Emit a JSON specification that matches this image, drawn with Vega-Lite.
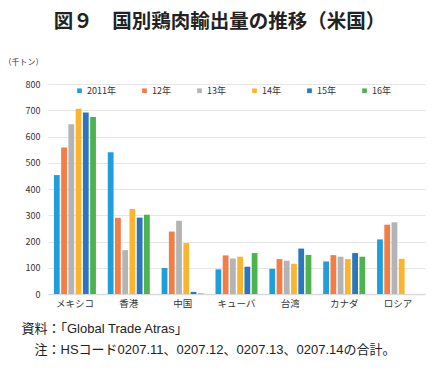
{
  "$schema": "https://vega.github.io/schema/vega-lite/v6.json",
  "autosize": "none",
  "width": 377,
  "height": 210,
  "padding": {"left": 48, "top": 84, "right": 14, "bottom": 87},
  "background": "#ffffff",
  "config": {
    "font": "Noto Sans CJK JP",
    "view": {"stroke": null}
  },
  "title": {
    "text": "図９　国別鶏肉輸出量の推移（米国）",
    "font": "Noto Sans CJK JP",
    "fontSize": 19.5,
    "fontWeight": "bold",
    "color": "#222222",
    "anchor": "middle",
    "dx": -17,
    "offset": 26
  },
  "data": {
    "values": [
      {"country": "メキシコ", "year": "2011年", "value": 453},
      {"country": "メキシコ", "year": "12年", "value": 558},
      {"country": "メキシコ", "year": "13年", "value": 647},
      {"country": "メキシコ", "year": "14年", "value": 706},
      {"country": "メキシコ", "year": "15年", "value": 691},
      {"country": "メキシコ", "year": "16年", "value": 674},
      {"country": "香港", "year": "2011年", "value": 540},
      {"country": "香港", "year": "12年", "value": 290},
      {"country": "香港", "year": "13年", "value": 167},
      {"country": "香港", "year": "14年", "value": 324},
      {"country": "香港", "year": "15年", "value": 291},
      {"country": "香港", "year": "16年", "value": 302},
      {"country": "中国", "year": "2011年", "value": 99},
      {"country": "中国", "year": "12年", "value": 238},
      {"country": "中国", "year": "13年", "value": 279},
      {"country": "中国", "year": "14年", "value": 194},
      {"country": "中国", "year": "15年", "value": 8},
      {"country": "中国", "year": "16年", "value": 2},
      {"country": "キューバ", "year": "2011年", "value": 94},
      {"country": "キューバ", "year": "12年", "value": 147},
      {"country": "キューバ", "year": "13年", "value": 135},
      {"country": "キューバ", "year": "14年", "value": 142},
      {"country": "キューバ", "year": "15年", "value": 104},
      {"country": "キューバ", "year": "16年", "value": 156},
      {"country": "台湾", "year": "2011年", "value": 96},
      {"country": "台湾", "year": "12年", "value": 133},
      {"country": "台湾", "year": "13年", "value": 127},
      {"country": "台湾", "year": "14年", "value": 115},
      {"country": "台湾", "year": "15年", "value": 173},
      {"country": "台湾", "year": "16年", "value": 149},
      {"country": "カナダ", "year": "2011年", "value": 124},
      {"country": "カナダ", "year": "12年", "value": 148},
      {"country": "カナダ", "year": "13年", "value": 142},
      {"country": "カナダ", "year": "14年", "value": 133},
      {"country": "カナダ", "year": "15年", "value": 156},
      {"country": "カナダ", "year": "16年", "value": 142},
      {"country": "ロシア", "year": "2011年", "value": 208},
      {"country": "ロシア", "year": "12年", "value": 264},
      {"country": "ロシア", "year": "13年", "value": 273},
      {"country": "ロシア", "year": "14年", "value": 134}
    ]
  },
  "mark": {"type": "bar"},
  "encoding": {
    "x": {
      "field": "country",
      "type": "nominal",
      "sort": ["メキシコ", "香港", "中国", "キューバ", "台湾", "カナダ", "ロシア"],
      "scale": {"paddingInner": 0.22, "paddingOuter": 0.11},
      "axis": {
        "title": ["資料：「Global Trade Atras」", "\u200b\u3000注：HSコード0207.11、0207.12、0207.13、0207.14の合計。"],
        "titleFont": "Liberation Sans, Noto Sans CJK JP",
        "titleFontSize": 13,
        "titleFontWeight": "normal",
        "titleColor": "#222222",
        "titleAnchor": "start",
        "titleAlign": "left",
        "titleBaseline": "middle",
        "titleLineHeight": 21,
        "titleX": -27,
        "titleY": 34,
        "labelAngle": 0,
        "labelFontSize": 9.5,
        "labelColor": "#333333",
        "labelPadding": 4,
        "ticks": false,
        "domainColor": "#d9d9d9",
        "domainWidth": 1.5
      }
    },
    "xOffset": {
      "field": "year",
      "type": "nominal",
      "sort": ["2011年", "12年", "13年", "14年", "15年", "16年"],
      "scale": {"paddingInner": 0.2, "paddingOuter": 0}
    },
    "y": {
      "field": "value",
      "type": "quantitative",
      "scale": {"domain": [0, 800]},
      "axis": {
        "values": [0, 100, 200, 300, 400, 500, 600, 700, 800],
        "title": "（千トン）",
        "titleAngle": 0,
        "titleFontSize": 8,
        "titleFontWeight": "normal",
        "titleColor": "#333333",
        "titleAlign": "left",
        "titleBaseline": "middle",
        "titleX": -45,
        "titleY": -22,
        "labelFontSize": 9,
        "labelColor": "#333333",
        "labelPadding": 8,
        "ticks": false,
        "domain": false,
        "gridColor": "#e6e6e6",
        "gridWidth": 1
      }
    },
    "color": {
      "field": "year",
      "type": "nominal",
      "sort": ["2011年", "12年", "13年", "14年", "15年", "16年"],
      "scale": {
        "domain": ["2011年", "12年", "13年", "14年", "15年", "16年"],
        "range": ["#1f9fda", "#f47c45", "#b4b4b4", "#fbb42e", "#2a77be", "#4db34f"]
      },
      "legend": {
        "title": null,
        "orient": "none",
        "direction": "horizontal",
        "columns": 6,
        "legendX": 27,
        "legendY": 2,
        "symbolType": "square",
        "symbolSize": 22,
        "symbolStrokeWidth": 0,
        "labelFontSize": 9,
        "labelColor": "#333333",
        "labelOffset": 3,
        "columnPadding": 24
      }
    }
  }
}
